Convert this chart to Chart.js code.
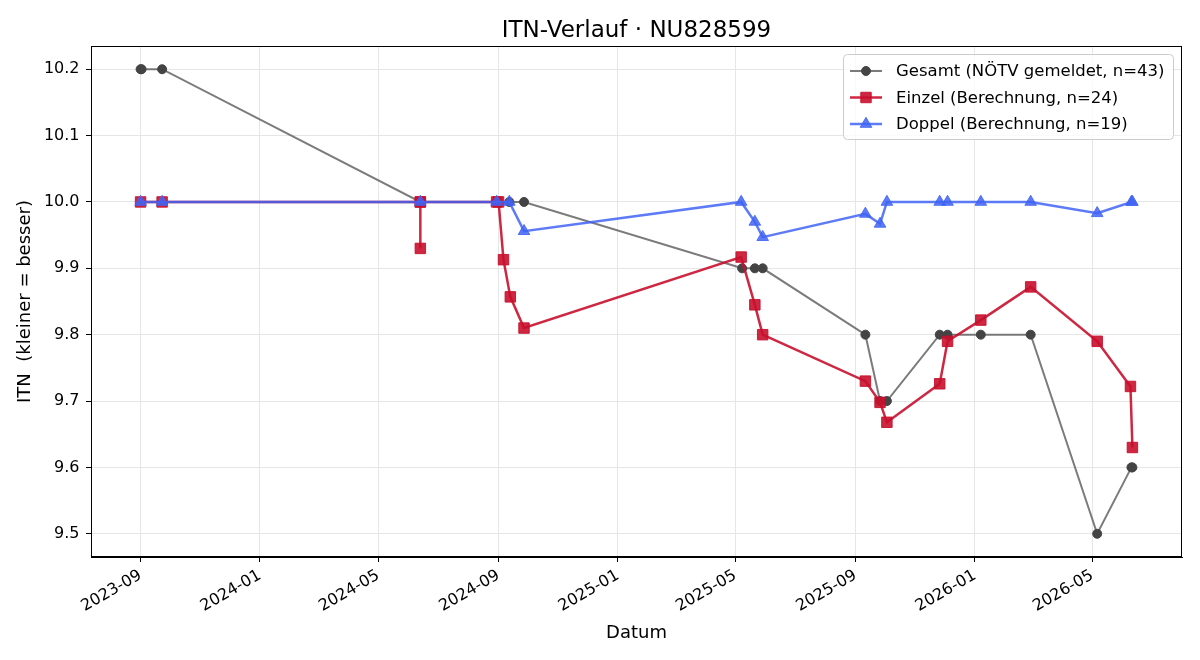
<!DOCTYPE html>
<html>
<head>
    <title>ITN-Verlauf NU828599</title>
    <script src="https://cdn.jsdelivr.net/npm/chart.js"></script>
    <style>
        body { margin: 0; background: #fff; }
    </style>
</head>
<body>
    <canvas id="itnChart" width="1200" height="660"></canvas>

    <script>
        // Gesamt (NÖTV gemeldet)
        const gesamtDates = ['2023-09-01', '2023-09-02', '2023-09-23', '2024-06-13', '2024-08-30', '2024-09-12', '2024-09-27',
            '2025-05-08', '2025-05-21', '2025-05-29', '2025-09-11', '2025-09-26', '2025-10-03', '2025-11-26', '2025-12-04',
            '2026-01-07', '2026-02-27', '2026-05-06', '2026-06-10', '2026-06-11'];
        const gesamtValues = [10.2, 10.2, 10.2, 10.0, 10.0, 10.0, 10.0,
            9.9, 9.9, 9.9, 9.8, 9.7, 9.7, 9.8, 9.8,
            9.8, 9.8, 9.5, 9.6, 9.6];

        // Einzel (Berechnung)
        const einzelDates = ['2023-09-01', '2023-09-23', '2024-06-13', '2024-06-13', '2024-06-13', '2024-08-30', '2024-09-01',
            '2024-09-06', '2024-09-13', '2024-09-27', '2025-05-07', '2025-05-21', '2025-05-29', '2025-09-11', '2025-09-26',
            '2025-10-03', '2025-11-26', '2025-12-04', '2026-01-07', '2026-02-27', '2026-05-06', '2026-06-09', '2026-06-11'];
        const einzelValues = [10.0, 10.0, 10.0, 9.93, 10.0, 10.0, 10.0,
            9.913, 9.857, 9.81, 9.917, 9.845, 9.80, 9.73, 9.698,
            9.668, 9.726, 9.79, 9.822, 9.872, 9.79, 9.722, 9.63];

        // Doppel (Berechnung)
        const doppelDates = ['2023-09-01', '2023-09-23', '2024-06-13', '2024-08-30', '2024-09-12', '2024-09-27',
            '2025-05-07', '2025-05-21', '2025-05-29', '2025-09-11', '2025-09-26', '2025-10-03', '2025-11-26',
            '2025-12-04', '2026-01-07', '2026-02-27', '2026-05-06', '2026-06-10', '2026-06-11'];
        const doppelValues = [10.0, 10.0, 10.0, 10.0, 10.0, 9.956,
            10.0, 9.97, 9.947, 9.982, 9.967, 10.0, 10.0,
            10.0, 10.0, 10.0, 9.983, 10.0, 10.0];

        const xTickLabels = ['2023-09', '2024-01', '2024-05', '2024-09', '2025-01', '2025-05', '2025-09', '2026-01', '2026-05'];
        const yTickValues = [9.5, 9.6, 9.7, 9.8, 9.9, 10.0, 10.1, 10.2];

        const toTime = s => {
            const p = s.split('-').map(Number);
            return Date.UTC(p[0], p[1] - 1, p[2] || 1);
        };
        const toPoints = (dates, values) => dates.map((d, i) => ({ x: toTime(d), y: values[i] }));

        const allTimes = gesamtDates.concat(einzelDates, doppelDates).map(toTime);
        const allValues = gesamtValues.concat(einzelValues, doppelValues);
        const tMin = Math.min(...allTimes), tMax = Math.max(...allTimes);
        const vMin = Math.min(...allValues), vMax = Math.max(...allValues);
        const tPad = (tMax - tMin) * 0.05, vPad = (vMax - vMin) * 0.05;

        const FONT = "'DejaVu Sans', sans-serif";
        const GRAY_LINE = 'rgba(90,90,90,0.8)';
        const GRAY_DOT = '#444444';
        const RED = 'rgba(200,16,46,0.9)';
        const BLUE = 'rgba(65,100,245,0.85)';

        const legendItems = [
            { text: 'Gesamt (NÖTV gemeldet, n=43)', line: GRAY_LINE, dot: GRAY_DOT, style: 'circle', radius: 4.5, width: 2 },
            { text: 'Einzel (Berechnung, n=24)', line: RED, dot: RED, style: 'rect', radius: 7.4, width: 2.5 },
            { text: 'Doppel (Berechnung, n=19)', line: BLUE, dot: BLUE, style: 'triangle', radius: 6.7, width: 2.5 }
        ];

        const framePlugin = {
            id: 'frame',
            afterDraw(chart) {
                const ctx = chart.ctx;
                const a = chart.chartArea;
                ctx.save();
                // plot frame
                ctx.strokeStyle = '#000';
                ctx.lineWidth = 1;
                ctx.strokeRect(a.left + 0.5, a.top + 0.5, a.right - a.left - 1, a.bottom - a.top - 1);

                // title
                ctx.fillStyle = '#000';
                ctx.font = '23px ' + FONT;
                ctx.textAlign = 'center';
                ctx.textBaseline = 'alphabetic';
                ctx.fillText('ITN-Verlauf · NU828599', (a.left + a.right) / 2, 36.5);

                // legend box
                const bx = a.right - 339, by = a.top + 8, bw = 330, bh = 85;
                ctx.beginPath();
                ctx.roundRect(bx + 0.5, by + 0.5, bw, bh, 4);
                ctx.fillStyle = 'rgba(255,255,255,0.8)';
                ctx.fill();
                ctx.strokeStyle = '#cccccc';
                ctx.stroke();

                ctx.font = '16.5px ' + FONT;
                ctx.textAlign = 'left';
                ctx.textBaseline = 'middle';
                legendItems.forEach((item, i) => {
                    const y = by + 17 + i * 26.5;
                    ctx.beginPath();
                    ctx.moveTo(bx + 7, y);
                    ctx.lineTo(bx + 39, y);
                    ctx.strokeStyle = item.line;
                    ctx.lineWidth = item.width;
                    ctx.stroke();
                    ctx.fillStyle = item.dot;
                    ctx.strokeStyle = item.dot;
                    ctx.lineWidth = 1;
                    Chart.helpers.drawPoint(ctx, { pointStyle: item.style, radius: item.radius, rotation: 0, borderWidth: 1 }, bx + 23, y);
                    ctx.fillStyle = '#000';
                    ctx.fillText(item.text, bx + 53, y + 1);
                });
                ctx.restore();
            }
        };

        const ctx = document.getElementById('itnChart').getContext('2d');
        new Chart(ctx, {
            type: 'line',
            data: {
                datasets: [
                    {
                        label: 'Gesamt (NÖTV gemeldet, n=43)',
                        data: toPoints(gesamtDates, gesamtValues),
                        borderColor: GRAY_LINE,
                        borderWidth: 2,
                        pointStyle: 'circle',
                        pointRadius: 4.5,
                        pointBackgroundColor: GRAY_DOT,
                        pointBorderColor: GRAY_DOT,
                        pointBorderWidth: 1,
                        order: 3
                    },
                    {
                        label: 'Einzel (Berechnung, n=24)',
                        data: toPoints(einzelDates, einzelValues),
                        borderColor: RED,
                        borderWidth: 2.5,
                        pointStyle: 'rect',
                        pointRadius: 7.4,
                        pointBackgroundColor: RED,
                        pointBorderColor: RED,
                        pointBorderWidth: 1,
                        order: 2
                    },
                    {
                        label: 'Doppel (Berechnung, n=19)',
                        data: toPoints(doppelDates, doppelValues),
                        borderColor: BLUE,
                        borderWidth: 2.5,
                        pointStyle: 'triangle',
                        pointRadius: 6.7,
                        pointBackgroundColor: BLUE,
                        pointBorderColor: BLUE,
                        pointBorderWidth: 1,
                        order: 1
                    }
                ]
            },
            options: {
                responsive: false,
                animation: false,
                layout: { padding: { top: 46, right: 18, left: 0, bottom: 0 } },
                plugins: {
                    legend: { display: false },
                    title: { display: false },
                    tooltip: { enabled: false }
                },
                scales: {
                    x: {
                        type: 'linear',
                        min: tMin - tPad,
                        max: tMax + tPad,
                        afterBuildTicks: scale => {
                            scale.ticks = xTickLabels.map(l => ({ value: toTime(l) }));
                        },
                        afterFit: scale => { scale.height = 103; },
                        grid: { color: '#e6e6e6', tickColor: '#000', tickLength: 5 },
                        border: { display: true, color: '#000' },
                        ticks: {
                            autoSkip: false,
                            minRotation: 30,
                            maxRotation: 30,
                            padding: 4,
                            color: '#000',
                            font: { family: FONT, size: 16 },
                            callback: (value, index) => xTickLabels[index]
                        },
                        title: {
                            display: true,
                            text: 'Datum',
                            color: '#000',
                            font: { family: FONT, size: 18 },
                            padding: { top: 4, bottom: 16 }
                        }
                    },
                    y: {
                        min: vMin - vPad,
                        max: vMax + vPad,
                        afterBuildTicks: scale => {
                            scale.ticks = yTickValues.map(v => ({ value: v }));
                        },
                        afterFit: scale => { scale.width = 91; },
                        grid: { color: '#e6e6e6', tickColor: '#000', tickLength: 5 },
                        border: { display: true, color: '#000' },
                        ticks: {
                            padding: 6.5,
                            color: '#000',
                            font: { family: FONT, size: 16 },
                            callback: value => value.toFixed(1)
                        },
                        title: {
                            display: true,
                            text: 'ITN  (kleiner = besser)',
                            color: '#000',
                            font: { family: FONT, size: 18 },
                            padding: { top: 15, bottom: 4 }
                        }
                    }
                }
            },
            plugins: [framePlugin]
        });
    </script>
</body>
</html>
